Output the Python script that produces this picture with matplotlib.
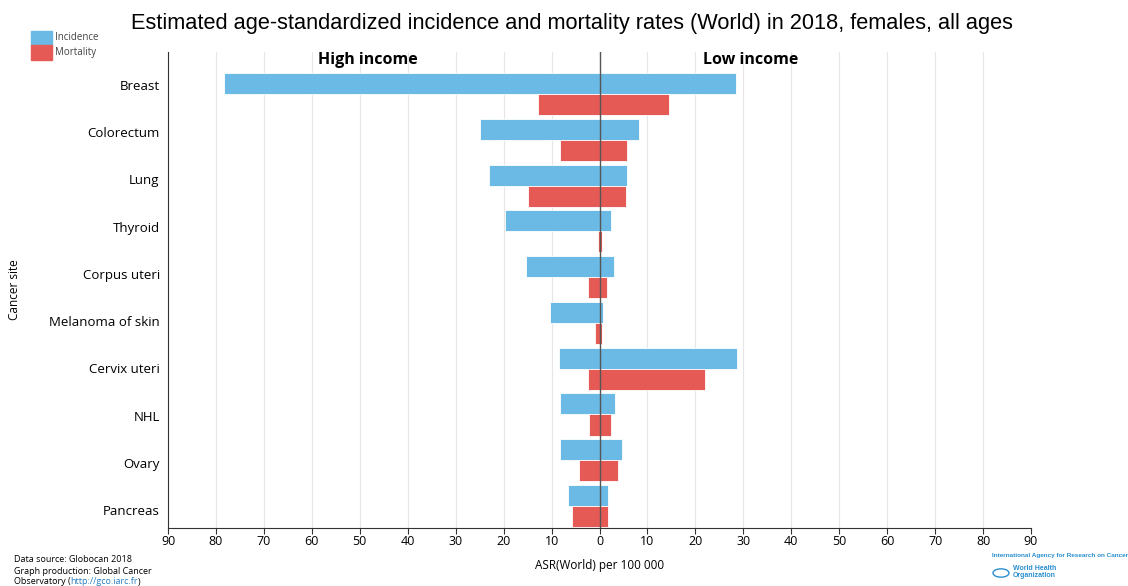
import matplotlib.pyplot as plt
import numpy as np

sites = ["Breast", "Colorectum", "Lung", "Thyroid", "Corpus uteri",
         "Melanoma of skin", "Cervix uteri", "NHL", "Ovary", "Pancreas"]

# ASR (World) per 100 000
high_incidence = [78.3, 25.0, 23.1, 19.8, 15.4, 10.4, 8.4, 8.3, 8.3, 6.6]
high_mortality = [12.9, 8.3, 15.0, 0.4, 2.4, 1.0, 2.5, 2.1, 4.2, 5.8]
low_incidence = [28.5, 8.3, 5.8, 2.3, 3.1, 0.8, 28.7, 3.3, 4.6, 1.7]
low_mortality = [14.6, 5.8, 5.6, 0.5, 1.5, 0.5, 22.0, 2.3, 3.9, 1.7]

ticks = list(range(-90, 91, 10))

blue = '#6bb9e5'
red = '#e65a55'

plt.rcParams['font.family'] = ['Open Sans', 'DejaVu Sans']

fig = plt.figure(figsize=(11.28, 5.86), dpi=100)
ax = fig.add_axes([168/1128, 1 - 528/586, (1031-168)/1128, (528-52)/586])

y = np.arange(len(sites))
h = 0.46
edge = dict(edgecolor='#ffffff', linewidth=0.6)

ax.barh(y, [-v for v in high_incidence], height=h, color=blue, **edge, zorder=2)
ax.barh(y, low_incidence, height=h, color=blue, **edge, zorder=2)
ax.barh(y + h, [-v for v in high_mortality], height=h, color=red, **edge, zorder=2)
ax.barh(y + h, low_mortality, height=h, color=red, **edge, zorder=2)

ax.axvline(0, color='#555555', linewidth=1, zorder=3)

ax.set_xlim(-90, 90)
ax.set_ylim(9.71, -0.69)
ax.set_xticks(ticks)
ax.set_xticklabels([str(abs(t)) for t in ticks], fontsize=9)
# category labels sit slightly offset from the bar pairs, as in the original
ax.set_yticks(np.linspace(0.03, 9.32, len(sites)))
ax.set_yticklabels(sites, fontsize=9.5)
ax.tick_params(axis='y', length=0, pad=6)
ax.tick_params(axis='x', length=4, color='#333333', pad=1)
ax.grid(axis='x', color='#e6e6e6', linewidth=0.8, zorder=0)
for s in ['top', 'right']:
    ax.spines[s].set_visible(False)
ax.spines['left'].set_color('#333333')
ax.spines['bottom'].set_color('#333333')

ax.set_xlabel('ASR(World) per 100 000', fontsize=8.5, labelpad=8)
fig.text(15/1128, 1 - 290/586, 'Cancer site', rotation=90, fontsize=8.5,
         ha='center', va='center')

ax.text(-48.3, -0.52, 'High income', fontsize=11.5, fontweight='bold', ha='center', va='center')
ax.text(31.5, -0.52, 'Low income', fontsize=11.5, fontweight='bold', ha='center', va='center')

fig.text(572/1128, 1 - 23/586,
         'Estimated age-standardized incidence and mortality rates (World) in 2018, females, all ages',
         fontsize=15.7, ha='center', va='center', family=['Liberation Sans', 'DejaVu Sans'])

# legend
fig.patches.append(plt.Rectangle((31/1128, 1 - 45/586), 21/1128, 14/586,
                                 transform=fig.transFigure, color=blue))
fig.patches.append(plt.Rectangle((31/1128, 1 - 60/586), 21/1128, 15/586,
                                 transform=fig.transFigure, color=red))
fig.text(55/1128, 1 - 38/586, 'Incidence', fontsize=7, color='#444444', va='center')
fig.text(55/1128, 1 - 53/586, 'Mortality', fontsize=7, color='#444444', va='center')

# footer
fig.text(14/1128, 1 - 559/586, 'Data source: Globocan 2018', fontsize=6.5, va='center')
fig.text(14/1128, 1 - 571/586, 'Graph production: Global Cancer', fontsize=6.5, va='center')
t1 = fig.text(14/1128, 1 - 582/586, 'Observatory (', fontsize=6.5, va='center')
t2 = fig.text(0, 0, 'http://gco.iarc.fr', fontsize=6.5, va='center', color='#2a7fc0')
fig.canvas.draw()
r = fig.canvas.get_renderer()
b1 = t1.get_window_extent(r)
t2.set_position((b1.x1 / fig.bbox.width, 1 - 582/586))
b2 = t2.get_window_extent(r)
fig.text(b2.x1 / fig.bbox.width, 1 - 582/586, ')', fontsize=6.5, va='center')

fig.text(992/1128, 1 - 556/586, 'International Agency for Research on Cancer', fontsize=4.6,
         color='#2a8fd0', fontweight='bold', va='center', family=['Liberation Sans', 'DejaVu Sans'])
fig.text(1013/1128, 1 - 572/586, 'World Health\nOrganization', fontsize=5, color='#2a8fd0',
         fontweight='bold', va='center', linespacing=0.9, family=['Liberation Sans', 'DejaVu Sans'])
fig.patches.append(plt.Circle((1001/1128, 1 - 573/586), 8/1128, transform=fig.transFigure,
                              facecolor='none', edgecolor='#2a8fd0', linewidth=1))

plt.savefig('out.png', dpi=100)
